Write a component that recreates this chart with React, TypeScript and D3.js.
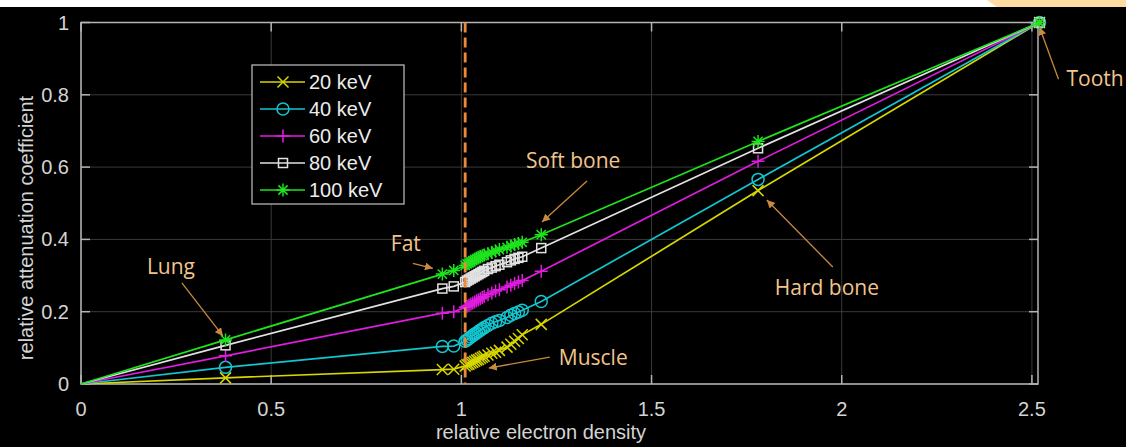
import React from 'react';
import * as d3 from 'd3';

// relative electron density of each tissue (air at origin, lung, fat, soft tissues, bones, tooth)
const density = [0, 0.38, 0.95, 0.98,
    1.01, 1.015, 1.02, 1.025, 1.03, 1.035, 1.04, 1.045, 1.05, 1.055, 1.06,
    1.07, 1.08, 1.09, 1.1, 1.12, 1.13, 1.14, 1.15, 1.16,
    1.21, 1.78, 2.52];

const kev20 = [0, 0.017, 0.040, 0.041,
    0.050, 0.053, 0.055, 0.058, 0.060, 0.063, 0.066, 0.068, 0.071, 0.074, 0.077,
    0.080, 0.085, 0.088, 0.093, 0.102, 0.110, 0.118, 0.126, 0.136,
    0.165, 0.535, 1];
const kev40 = [0, 0.046, 0.104, 0.105,
    0.118, 0.122, 0.126, 0.130, 0.134, 0.138, 0.141, 0.145, 0.149, 0.152, 0.156,
    0.162, 0.168, 0.172, 0.176, 0.184, 0.190, 0.195, 0.199, 0.204,
    0.228, 0.566, 1];
const kev60 = [0, 0.078, 0.196, 0.200,
    0.212, 0.215, 0.218, 0.221, 0.224, 0.227, 0.230, 0.233, 0.236, 0.239, 0.242,
    0.247, 0.252, 0.257, 0.261, 0.268, 0.273, 0.278, 0.282, 0.286,
    0.312, 0.616, 1];
const kev80 = [0, 0.107, 0.264, 0.270,
    0.282, 0.286, 0.289, 0.292, 0.295, 0.298, 0.301, 0.304, 0.307, 0.310, 0.313,
    0.318, 0.322, 0.326, 0.330, 0.337, 0.342, 0.346, 0.349, 0.352,
    0.376, 0.652, 1];
const kev100 = [0, 0.122, 0.304, 0.314,
    0.328, 0.332, 0.335, 0.338, 0.341, 0.344, 0.347, 0.350, 0.353, 0.355, 0.357,
    0.360, 0.364, 0.368, 0.372, 0.378, 0.382, 0.386, 0.389, 0.392,
    0.413, 0.671, 1];

const seriesNames = ['20 keV', '40 keV', '60 keV', '80 keV', '100 keV'];
const seriesValues = [kev20, kev40, kev60, kev80, kev100];
const seriesColors = ['#d6d600', '#12c6d0', '#e01ce0', '#e2e2e2', '#1ee41e'];
const markerTypes = ['x', 'o', '+', 's', '*'];

const xTicks = [0, 0.5, 1, 1.5, 2, 2.5];
const yTicks = [0, 0.2, 0.4, 0.6, 0.8, 1];

const dashedAt = 1.01;

// annotation labels: arrow tip in data units
const labels = [
    {text: 'Lung', tip: [0.373, 0.133]},
    {text: 'Fat', tip: [0.925, 0.32]},
    {text: 'Soft bone', tip: [1.212, 0.448]},
    {text: 'Muscle', tip: [1.072, 0.044]},
    {text: 'Hard bone', tip: [1.803, 0.509]},
    {text: 'Tooth', tip: [2.52, 0.987]},
];

const W = 1126, H = 447;
const ANN = '#f2c48e', ARROW = '#c98a3e';
const FONT = 'Liberation Sans, Arial, sans-serif';

function Marker({type, x, y, color}: {type: string, x: number, y: number, color: string}) {
    const s = 5.5;
    const common = {stroke: color, strokeWidth: 1.5, fill: 'none'};
    if (type === 'o') return <circle cx={x} cy={y} r={6} {...common}/>;
    if (type === 's') return <rect x={x - 4.5} y={y - 4.5} width={9} height={9} {...common}/>;
    if (type === 'x') return <path d={`M${x - s},${y - s}L${x + s},${y + s}M${x - s},${y + s}L${x + s},${y - s}`} {...common}/>;
    if (type === '+') return <path d={`M${x - 6.5},${y}H${x + 6.5}M${x},${y - 6.5}V${y + 6.5}`} {...common}/>;
    const d = 4.6;
    return <path d={`M${x - 6.5},${y}H${x + 6.5}M${x},${y - 6.5}V${y + 6.5}M${x - d},${y - d}L${x + d},${y + d}M${x - d},${y + d}L${x + d},${y - d}`} {...common}/>;
}

export default function App() {
    const x = d3.scaleLinear().domain([0, 2.516]).range([81, 1038]);
    const y = d3.scaleLinear().domain([0, 1]).range([384, 22.5]);
    const [x0, x1] = x.range();
    const [y0, y1] = y.range();

    const line = d3.line<number>().x((d, i) => x(density[i])).y(d => y(d));

    // label offsets from the arrow tip (arrow start, text anchor)
    const layout: Record<string, {from: number[], at: number[]}> = {
        'Lung': {from: [-41, -53], at: [-76, -62]},
        'Fat': {from: [-20, -5], at: [-42, -17]},
        'Soft bone': {from: [45, -41], at: [-16, -54]},
        'Muscle': {from: [61, -11], at: [70, -3]},
        'Hard bone': {from: [66, 67], at: [8, 95]},
        'Tooth': {from: [19, 52], at: [27, 59]},
    };

    return (
        <svg width={W} height={H} style={{position: 'absolute', left: 0, top: 0, display: 'block'}}>
            <defs>
                <marker id="ah" viewBox="0 0 10 10" refX="10" refY="5" markerWidth="8" markerHeight="8"
                        markerUnits="userSpaceOnUse" orient="auto">
                    <path d="M0,0L10,5L0,10z" fill={ARROW}/>
                </marker>
            </defs>
            <rect width={W} height={H} fill="#000"/>
            <rect width={W} height={7} fill="#fff"/>
            <path d="M987,0H1126V7H997Z" fill="#fddba2"/>

            {/* grid */}
            {xTicks.map(t => <line key={'gx' + t} x1={x(t)} x2={x(t)} y1={y0} y2={y1} stroke="#3a3a3a"/>)}
            {yTicks.map(t => <line key={'gy' + t} x1={x0} x2={x1} y1={y(t)} y2={y(t)} stroke="#3a3a3a"/>)}

            {/* box + ticks */}
            <rect x={x0} y={y1} width={x1 - x0} height={y0 - y1} fill="none" stroke="#b4b4b4" strokeWidth={1.5}/>
            {xTicks.map(t => <g key={'tx' + t}>
                <line x1={x(t)} x2={x(t)} y1={y0} y2={y0 - 9} stroke="#b4b4b4" strokeWidth={1.5}/>
                <line x1={x(t)} x2={x(t)} y1={y1} y2={y1 + 9} stroke="#b4b4b4" strokeWidth={1.5}/>
                <text x={x(t)} y={416} textAnchor="middle" fontFamily={FONT}
                      fontSize={20} fill="#d4d4d4">{t}</text>
            </g>)}
            {yTicks.map(t => <g key={'ty' + t}>
                <line x1={x0} x2={x0 + 9} y1={y(t)} y2={y(t)} stroke="#b4b4b4" strokeWidth={1.5}/>
                <line x1={x1} x2={x1 - 9} y1={y(t)} y2={y(t)} stroke="#b4b4b4" strokeWidth={1.5}/>
                <text x={69} y={y(t) + 7} textAnchor="end" fontFamily={FONT}
                      fontSize={20} fill="#d4d4d4">{t}</text>
            </g>)}

            <text x={541} y={439} textAnchor="middle" fontFamily={FONT}
                  fontSize={20} fill="#d4d4d4">relative electron density</text>
            <text transform="translate(33,228) rotate(-90)" textAnchor="middle"
                  fontFamily={FONT} fontSize={20} fill="#d4d4d4">
                relative attenuation coefficient
            </text>

            {/* series */}
            {seriesValues.map((vals, k) => <g key={seriesNames[k]}>
                <path d={line(vals) || ''} fill="none" stroke={seriesColors[k]} strokeWidth={1.7}/>
                {vals.map((v, i) => i === 0 ? null :
                    <Marker key={i} type={markerTypes[k]} x={x(density[i])} y={y(v)} color={seriesColors[k]}/>)}
            </g>)}

            {/* dashed reference */}
            <line x1={x(dashedAt)} x2={x(dashedAt)} y1={y1} y2={y0} stroke="#ec8a3a" strokeWidth={2.8}
                  strokeDasharray="10,5"/>

            {/* legend */}
            <rect x={252} y={65} width={152} height={139} fill="#000" stroke="#b4b4b4" strokeWidth={1.3}/>
            {seriesNames.map((n, k) => {
                const ly = 82 + k * 27;
                return <g key={'lg' + n}>
                    <line x1={260} x2={305} y1={ly} y2={ly} stroke={seriesColors[k]} strokeWidth={1.7}/>
                    <Marker type={markerTypes[k]} x={283} y={ly} color={seriesColors[k]}/>
                    <text x={309} y={ly + 7} fontFamily={FONT} fontSize={20}
                          fill="#ececec">{n}</text>
                </g>;
            })}

            {/* annotations */}
            {labels.map(l => {
                const tx = x(l.tip[0]), ty = y(l.tip[1]);
                const o = layout[l.text];
                return <g key={l.text}>
                    <line x1={tx + o.from[0]} y1={ty + o.from[1]} x2={tx} y2={ty} stroke={ARROW} strokeWidth={1.3}
                          markerEnd="url(#ah)"/>
                    <text x={tx + o.at[0]} y={ty + o.at[1]} fontFamily="Open Sans, sans-serif" fontSize={21}
                          fill={ANN}>{l.text}</text>
                </g>;
            })}
        </svg>
    );
}
